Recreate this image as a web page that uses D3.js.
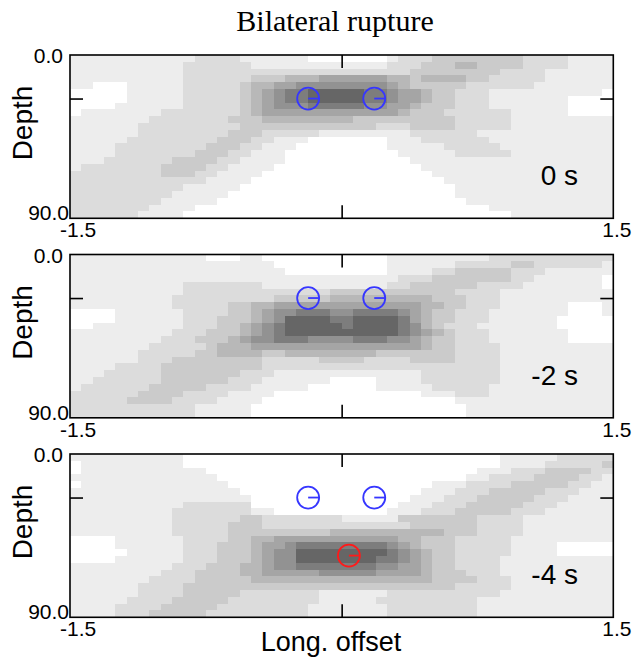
<!DOCTYPE html>
<html><head><meta charset="utf-8">
<script src="https://cdn.jsdelivr.net/npm/d3@7"></script>
<style>body{margin:0;background:#fff}</style>
</head><body>
<svg id="chart" width="634" height="662"></svg>
<script>
// ---------- data ----------
const title = "Bilateral rupture";
const xLabel = "Long. offset";
const yLabel = "Depth";
const xDomain = [-1.5, 1.5];
const depthDomain = [0, 90];
const xTickLabels = ["-1.5", "1.5"];
const yTickLabels = ["0.0", "90.0"];
const panelLabels = ["0 s", "-2 s", "-4 s"];
const tickOffset = [0];          // x tick (top/bottom)
const tickDepth = [24];          // depth tick (left/right)
const stationX = [-0.185, 0.18]; // blue hypocentres, offsets
const stationDepth = 24;
const redPoint = [{panel: 2, x: 0.04, depth: 56}];
const grayLevels = ["#ffffff","#ededed","#dcdcdc","#cbcbcb","#b8b8b8","#a5a5a5","#929292","#7d7d7d","#666666"];

// heat levels, 24 depth rows x 48 offset columns, run-length "level:count"
const panel0s = [
"1:11 2:4 1:6 0:7 1:1 2:3 3:8 2:4 1:4",
"1:10 2:6 1:12 2:3 3:3 4:2 3:4 2:4 1:4",
"1:10 2:20 3:8 2:4 1:6",
"1:10 2:6 3:3 4:3 5:6 4:2 3:1 4:4 3:2 2:5 1:6",
"1:2 0:3 1:5 2:5 3:1 4:2 5:2 6:8 5:1 4:1 3:5 2:6 1:7",
"0:5 1:5 2:5 3:1 4:1 5:1 6:1 7:2 8:5 7:2 6:1 5:2 4:1 3:2 2:3 1:10 0:1",
"0:5 1:5 2:5 3:1 4:1 5:1 6:1 7:2 8:5 7:2 6:1 5:2 4:1 3:2 2:3 1:7 0:4",
"0:4 1:6 2:5 3:1 4:1 5:1 6:3 7:5 6:2 5:2 4:1 3:3 2:3 1:7 0:4",
"0:1 1:7 2:7 3:1 4:1 5:12 4:1 3:3 2:6 1:5 0:4",
"1:7 2:7 3:3 4:8 3:9 2:5 1:9",
"1:6 2:9 3:12 2:3 3:4 2:5 1:9",
"1:6 2:8 3:3 2:5 1:8 2:6 1:12",
"1:5 2:8 3:3 2:2 1:3 0:7 1:3 2:6 1:11",
"1:4 2:8 3:3 2:2 1:3 0:8 1:5 2:5 1:10",
"1:4 2:7 3:3 2:2 1:3 0:10 1:5 2:5 1:9",
"1:3 2:6 3:4 2:2 1:4 0:11 1:18",
"1:1 2:7 3:4 2:2 1:4 0:13 1:17",
"2:8 3:3 2:2 1:4 0:15 1:16",
"2:12 1:4 0:17 1:15",
"2:10 1:5 0:19 1:14",
"2:9 1:5 0:20 1:14",
"2:8 1:5 0:22 1:13",
"2:7 1:4 0:26 1:11",
"2:6 1:4 0:29 1:9"];

const panel2s = [
"1:12 0:3 1:2 0:11 1:9 2:11",
"1:18 0:10 1:6 2:5 3:2 2:6 1:1",
"1:19 0:9 1:4 2:2 3:5 2:3 1:6",
"1:29 2:3 3:7 2:2 1:6 0:1",
"1:10 2:7 1:11 2:2 3:6 2:4 1:7 0:1",
"1:10 2:13 3:11 2:4 1:10",
"1:9 2:9 3:5 4:9 3:3 2:3 1:10",
"1:9 2:5 3:2 4:2 5:13 4:2 3:2 2:3 1:6 0:3 1:1",
"0:4 1:6 2:4 3:2 4:1 5:1 6:2 7:3 6:2 7:4 6:1 5:1 4:1 3:2 2:3 1:7 0:3 1:1",
"0:4 1:6 2:3 3:3 4:1 5:1 6:1 8:4 7:2 8:4 7:1 5:1 4:1 3:2 2:3 1:6 0:5",
"0:2 1:8 2:3 3:2 4:1 5:1 6:1 7:1 8:5 7:1 8:4 7:1 6:1 4:1 3:1 2:3 1:7 0:5",
"1:9 2:3 3:3 4:1 5:1 6:1 7:1 8:10 7:1 6:1 5:1 4:1 3:1 2:3 1:7 0:5",
"1:8 2:3 3:3 4:1 5:1 6:2 7:3 6:4 7:3 6:2 5:1 4:1 3:2 2:3 1:7 0:5",
"1:7 2:5 3:1 4:3 5:15 4:1 3:2 2:4 1:11",
"1:6 2:5 3:2 4:4 3:2 4:8 3:7 2:4 1:10",
"1:6 2:3 3:8 2:5 3:4 2:4 3:4 2:4 1:10",
"1:4 2:4 3:9 2:21 1:10",
"1:3 2:5 3:7 2:3 1:13 2:7 1:10",
"1:2 2:6 3:6 2:3 1:6 0:4 1:4 2:7 1:10",
"1:1 2:6 3:5 2:4 1:5 0:6 1:5 2:5 1:11",
"2:6 3:4 2:4 1:4 0:13 1:3 2:3 1:11",
"2:5 3:4 2:4 1:4 0:17 1:14",
"2:11 1:5 0:19 1:13",
"2:11 1:5 0:19 1:13"];

const panel4s = [
"1:10 0:28 1:5 2:5",
"0:1 1:9 0:28 1:4 2:5 3:1",
"0:1 1:11 0:24 1:3 2:3 3:4 2:2",
"1:13 0:22 1:2 2:4 3:4 2:2 1:1",
"0:1 1:13 0:18 1:3 2:4 3:5 2:2 1:2",
"1:15 0:16 1:3 2:3 3:5 2:3 1:3",
"1:16 0:14 1:3 2:3 3:5 2:3 1:4",
"1:10 2:6 0:13 1:3 2:3 3:5 2:3 1:5",
"1:9 2:7 1:2 0:10 1:3 2:3 3:5 2:3 1:6",
"1:9 2:6 3:2 2:7 1:5 3:7 2:4 1:8",
"1:9 2:5 3:3 2:13 3:6 2:4 1:8",
"1:9 2:5 3:9 4:10 3:3 2:4 1:8",
"0:4 1:6 2:4 3:2 4:2 5:11 4:2 3:3 2:5 1:9",
"0:4 1:6 2:3 3:3 4:1 5:2 6:1 7:8 6:1 5:1 4:1 3:3 2:5 1:4 0:5",
"0:5 1:5 2:3 3:3 4:1 5:1 6:2 8:8 7:1 6:1 5:1 4:1 3:2 2:5 1:4 0:5",
"0:4 1:6 2:3 3:3 4:1 5:1 6:2 8:7 7:2 6:1 5:1 4:1 3:2 2:4 1:10",
"1:9 2:3 3:3 4:2 5:1 6:2 7:7 6:2 5:2 4:1 3:2 2:4 1:10",
"1:8 2:3 3:4 4:2 5:5 6:5 5:4 4:1 3:3 2:3 1:10",
"1:7 2:4 3:5 4:16 3:4 2:3 1:9",
"1:6 2:4 3:24 2:5 1:9",
"1:6 2:4 3:5 2:7 1:6 2:10 1:10",
"1:5 2:4 3:5 2:8 1:5 2:9 1:12",
"1:4 2:4 3:5 2:8 1:7 2:8 1:12",
"1:4 2:3 3:5 2:9 1:7 2:8 1:12"];

const panelsData = [panel0s, panel2s, panel4s];

// ---------- drawing ----------
const NC = 48, NR = 24;
const sans = "'Liberation Sans', Arial, Helvetica, sans-serif";
const serif = "'Liberation Serif', 'Times New Roman', serif";
const svg = d3.select("#chart");
const left = 70, right = 613.3, ph = 163.3;
const tops = [55, 254.5, 454];

const x = d3.scaleLinear().domain(xDomain).range([left, right]);
const colBand = d3.scaleBand().domain(d3.range(NC)).range([left, right]);
const color = d3.scaleOrdinal().domain(d3.range(grayLevels.length)).range(grayLevels);

function decode(rowStr) {
  const out = [];
  rowStr.trim().split(/\s+/).forEach(tok => {
    const [lv, n] = tok.split(":").map(Number);
    for (let k = 0; k < n; k++) out.push(lv);
  });
  while (out.length < NC) out.push(out[out.length - 1]);
  return out.slice(0, NC);
}

svg.append("text").attr("x", 335).attr("y", 31).attr("text-anchor", "middle")
  .style("font-family", serif).style("font-size", "30px").text(title);

panelsData.forEach((rows, pi) => {
  const top = tops[pi];
  const y = d3.scaleLinear().domain(depthDomain).range([top, top + ph]);
  const rowBand = d3.scaleBand().domain(d3.range(NR)).range([top, top + ph]);
  const g = svg.append("g");
  const cells = [];
  rows.forEach((rs, r) => decode(rs).forEach((v, c) => cells.push({r, c, v})));
  g.selectAll("rect.cell").data(cells).join("rect")
    .attr("class", "cell")
    .attr("x", d => colBand(d.c)).attr("y", d => rowBand(d.r))
    .attr("width", colBand.bandwidth() + 0.6).attr("height", rowBand.bandwidth() + 0.6)
    .attr("fill", d => color(d.v))
    .attr("shape-rendering", "crispEdges");

  // ticks via axes
  const tk = 13;
  const axT = g.append("g").attr("transform", `translate(0,${top})`)
    .call(d3.axisTop(x).tickValues(tickOffset).tickSize(-tk).tickFormat(""));
  const axB = g.append("g").attr("transform", `translate(0,${top + ph})`)
    .call(d3.axisBottom(x).tickValues(tickOffset).tickSize(-tk).tickFormat(""));
  const axL = g.append("g").attr("transform", `translate(${left},0)`)
    .call(d3.axisLeft(y).tickValues(tickDepth).tickSize(-tk).tickFormat(""));
  const axR = g.append("g").attr("transform", `translate(${right},0)`)
    .call(d3.axisRight(y).tickValues(tickDepth).tickSize(-tk).tickFormat(""));
  [axT, axB, axL, axR].forEach(a => {
    a.select(".domain").remove();
    a.selectAll("line").attr("stroke", "#000").attr("stroke-width", 1.6);
  });

  // frame
  g.append("rect").attr("x", left).attr("y", top).attr("width", right - left).attr("height", ph)
    .attr("fill", "none").attr("stroke", "#000").attr("stroke-width", 1.6);

  // tick labels
  const tf = "21px";
  g.append("text").attr("x", 63).attr("y", y(depthDomain[0]) + 8).attr("text-anchor", "end")
    .style("font-family", sans).style("font-size", tf).text(yTickLabels[0]);
  g.append("text").attr("x", 69).attr("y", y(depthDomain[1]) + 2).attr("text-anchor", "end")
    .style("font-family", sans).style("font-size", tf).text(yTickLabels[1]);
  g.append("text").attr("x", x(xDomain[0]) - 10).attr("y", top + ph + 19).attr("text-anchor", "start")
    .style("font-family", sans).style("font-size", tf).text(xTickLabels[0]);
  g.append("text").attr("x", x(xDomain[1]) - 11).attr("y", top + ph + 19).attr("text-anchor", "start")
    .style("font-family", sans).style("font-size", tf).text(xTickLabels[1]);

  // y label
  g.append("text").attr("transform", `translate(32,${top + 68}) rotate(-90)`)
    .attr("text-anchor", "middle").style("font-family", sans).style("font-size", "28px").text(yLabel);

  // panel label
  g.append("text").attr("x", 578).attr("y", top + 130).attr("text-anchor", "end")
    .style("font-family", sans).style("font-size", "28px").text(panelLabels[pi]);

  // hypocentres
  const pts = stationX.map(sx => ({x: sx, depth: stationDepth, col: "#3636ff"}));
  redPoint.filter(p => p.panel === pi).forEach(p => pts.push({x: p.x, depth: p.depth, col: "#ff1a1a"}));
  const rad = 11;
  pts.forEach(p => {
    const cx = x(p.x), cy = y(p.depth);
    g.append("circle").attr("cx", cx).attr("cy", cy).attr("r", rad)
      .attr("fill", "none").attr("stroke", p.col).attr("stroke-width", 1.8);
    g.append("line").attr("x1", cx).attr("y1", cy).attr("x2", cx + rad).attr("y2", cy)
      .attr("stroke", p.col).attr("stroke-width", 1.8);
  });
});

svg.append("text").attr("x", 331).attr("y", 651).attr("text-anchor", "middle")
  .style("font-family", sans).style("font-size", "27px").text(xLabel);
</script>
</body></html>
